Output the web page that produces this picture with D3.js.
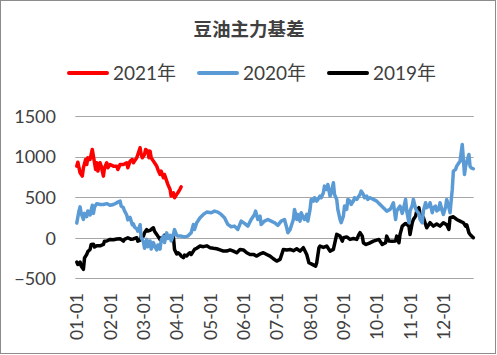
<!DOCTYPE html>
<html><head><meta charset="utf-8">
<script src="https://cdn.jsdelivr.net/npm/d3@7"></script>
<style>
html,body{margin:0;padding:0;background:#fff;}
svg{display:block;}
</style></head>
<body>
<svg id="c" width="497" height="355"></svg>
<script>
// ---- data (x = day offset from 01-01, 30-day month ticks) ----
const title = "豆油主力基差";
const seriesNames = ["2021年", "2020年", "2019年"];
const seriesColors = ["#FF0000", "#5B9BD5", "#000000"];
const yTicks = [-500, 0, 500, 1000, 1500];
const xTickDays = [0,30,60,90,120,150,180,210,240,270,300,330];
const xTickLabels = ["01-01","02-01","03-01","04-01","05-01","06-01","07-01","08-01","09-01","10-01","11-01","12-01"];

const days2021 = [0,1,3,5,6,8,9,10,12,14,15,16,17,18,19,21,22,24,25,27,28,30,33,36,37,39,42,45,46,48,50,51,52,54,55,57,58,59,61,62,64,65,66,67,69,70,72,73,75,76,78,79,81,82,84,85,87,88,90,91,93,94];
const vals2021 = [882,931,800,759,862,964,903,985,964,1088,1005,924,841,924,821,924,882,759,862,924,862,903,882,882,841,903,903,924,862,944,964,924,944,985,1026,1109,1026,985,1026,1088,1067,985,1067,985,944,924,882,841,780,821,739,780,697,657,595,513,554,493,534,554,600,628];

const days2020 = [0,2,3,4,6,7,9,10,12,14,15,16,18,21,24,27,30,33,36,37,39,40,42,43,45,46,48,50,51,52,54,55,57,58,60,61,63,64,66,67,69,70,72,73,75,76,78,79,81,82,84,85,87,88,90,91,94,97,100,103,105,106,108,111,114,117,121,124,127,130,133,136,139,142,145,148,151,154,157,160,161,163,165,166,169,172,175,178,181,184,187,189,190,192,195,196,198,199,201,202,204,205,207,208,210,211,213,214,216,217,219,220,222,223,225,226,228,229,231,232,234,235,237,238,240,241,243,244,246,247,249,250,252,253,255,256,258,259,261,262,264,267,270,273,276,279,282,283,285,287,288,291,293,294,296,297,299,300,302,303,305,306,308,309,311,312,314,315,317,318,320,321,323,324,326,327,329,330,332,333,335,336,338,339,341,342,344,345,347,348,349,350,351,353,354,355,357];
const vals2020 = [180,330,380,300,225,300,260,330,280,400,300,380,420,410,410,420,400,410,430,440,451,390,370,330,280,220,250,160,170,130,110,80,160,0,-50,-130,-20,-110,-40,-140,-60,-100,-150,-90,-140,-30,20,-60,60,-10,30,-40,40,100,30,20,20,10,20,61,164,102,185,246,287,316,308,328,316,287,246,164,135,143,102,205,176,143,225,287,328,225,266,164,205,225,205,185,152,205,225,123,62,100,225,349,225,287,205,308,246,225,287,205,349,472,451,493,451,472,513,493,554,636,595,657,513,554,677,534,472,349,225,185,266,390,349,472,451,410,451,493,472,493,534,575,534,493,513,472,493,472,451,410,370,328,349,370,431,225,330,390,300,350,472,330,185,330,400,472,360,330,300,225,185,330,431,370,390,431,308,370,390,330,350,431,330,287,380,472,370,308,595,821,842,882,924,940,1149,965,780,882,930,1026,882,862,850];

const days2019 = [0,1,3,4,6,7,9,10,12,13,15,16,18,21,24,25,27,30,33,36,39,42,43,46,49,51,54,55,57,58,60,61,63,64,66,67,69,70,72,73,75,76,78,79,81,84,87,88,90,91,93,94,96,97,99,100,102,103,105,106,108,111,114,117,120,123,126,129,132,135,138,141,144,147,150,153,156,159,162,165,168,171,174,177,180,183,185,186,189,192,195,198,201,204,207,209,212,215,216,218,219,222,225,228,231,233,234,237,239,240,243,246,249,252,254,255,257,258,260,263,267,272,275,278,279,281,284,287,288,290,291,293,296,299,300,302,303,305,306,308,309,311,312,314,315,318,321,324,327,330,333,335,336,339,342,345,348,350,351,353,354,357];
const vals2019 = [-300,-330,-300,-350,-390,-250,-206,-170,-144,-83,-80,-115,-100,-100,-83,-42,-40,-21,-25,-15,-12,-42,-20,0,-20,-15,0,-42,-30,20,20,62,100,82,90,102,123,80,41,20,-21,0,-20,30,20,20,10,-144,-200,-185,-206,-226,-246,-215,-226,-206,-185,-206,-165,-144,-130,-103,-110,-100,-123,-130,-136,-150,-165,-165,-150,-165,-185,-144,-150,-185,-206,-206,-226,-200,-185,-206,-226,-259,-288,-267,-185,-144,-150,-144,-160,-136,-165,-123,-206,-308,-329,-350,-308,-123,-103,-120,-103,-165,-144,-21,41,20,-42,0,10,-21,-10,-21,41,62,20,-62,-83,-70,-42,-21,-83,-62,20,-40,-42,-40,20,-62,41,143,176,143,41,185,225,266,328,370,287,225,250,164,123,185,143,170,143,185,160,102,246,258,225,205,185,143,160,62,41,0];

// ---- drawing ----
const svg = d3.select("#c");
const W = 497, H = 355;
const plot = {left: 75.3, right: 473.7, top: 116, bottom: 278.3};
const FONT = "Lato, 'Noto Sans CJK SC', sans-serif";

svg.append("rect").attr("x",0.5).attr("y",0.5).attr("width",W-2).attr("height",H-2)
  .attr("fill","#fff").attr("stroke","#8c8c8c").attr("stroke-width",1);

const x = d3.scaleLinear().domain([-1.3, 357.3]).range([plot.left, plot.right]);
const y = d3.scaleLinear().domain([-500, 1500]).range([plot.bottom, plot.top]);

// gridlines
svg.append("g").selectAll("line").data(yTicks).join("line")
  .attr("x1", plot.left).attr("x2", plot.right)
  .attr("y1", d => Math.round(y(d)) + 0.5).attr("y2", d => Math.round(y(d)) + 0.5)
  .attr("stroke", "#a6a6a6").attr("stroke-width", 1);

// y axis labels
const yAxis = d3.axisLeft(y).tickValues(yTicks).tickFormat(d3.format("d")).tickSize(0).tickPadding(0);
const gy = svg.append("g").attr("transform", `translate(56,0)`).call(yAxis);
gy.select(".domain").remove();
gy.selectAll("text").attr("font-family", FONT).attr("font-size", 18).attr("fill", "#404040")
  .attr("dy", "0.35em").attr("x", 0);

// x axis labels
const xAxis = d3.axisBottom(x).tickValues(xTickDays).tickFormat((d,i) => xTickLabels[i]).tickSize(0).tickPadding(0);
const gx = svg.append("g").attr("transform", `translate(0,293)`).call(xAxis);
gx.select(".domain").remove();
gx.selectAll("text").attr("font-family", FONT).attr("font-size", 17.5).attr("fill", "#404040")
  .attr("transform", "rotate(-90)").attr("text-anchor", "end")
  .attr("x", 0).attr("y", 0).attr("dy", "0.35em");

// lines
const series = [
  {days: days2019, vals: vals2019, color: seriesColors[2]},
  {days: days2020, vals: vals2020, color: seriesColors[1]},
  {days: days2021, vals: vals2021, color: seriesColors[0]}
];
const line = d3.line().x(d => x(d[0])).y(d => y(d[1]));
series.forEach(s => {
  const pts = s.days.map((d,i) => [d, s.vals[i]]);
  svg.append("path").datum(pts).attr("d", line)
    .attr("fill","none").attr("stroke", s.color).attr("stroke-width", 3.5)
    .attr("stroke-linejoin","round").attr("stroke-linecap","round");
});

// title
svg.append("text").attr("x", 249).attr("y", 28).attr("text-anchor","middle")
  .attr("dominant-baseline","central")
  .attr("font-family","'Noto Sans CJK SC', sans-serif").attr("font-weight","bold")
  .attr("font-size", 18.5).attr("fill","#404040").text(title);

// legend
const legendX = [67, 197, 327];
const lg = svg.append("g");
seriesNames.forEach((n,i) => {
  lg.append("line").attr("x1", legendX[i]+2).attr("x2", legendX[i]+40).attr("y1",73).attr("y2",73)
    .attr("stroke", seriesColors[i]).attr("stroke-width", 4).attr("stroke-linecap","round");
  lg.append("text").attr("x", legendX[i]+46).attr("y", 73).attr("dy","0.35em")
    .attr("font-family", FONT).attr("font-size", 19).attr("fill","#404040").text(n);
});
</script>
</body></html>
